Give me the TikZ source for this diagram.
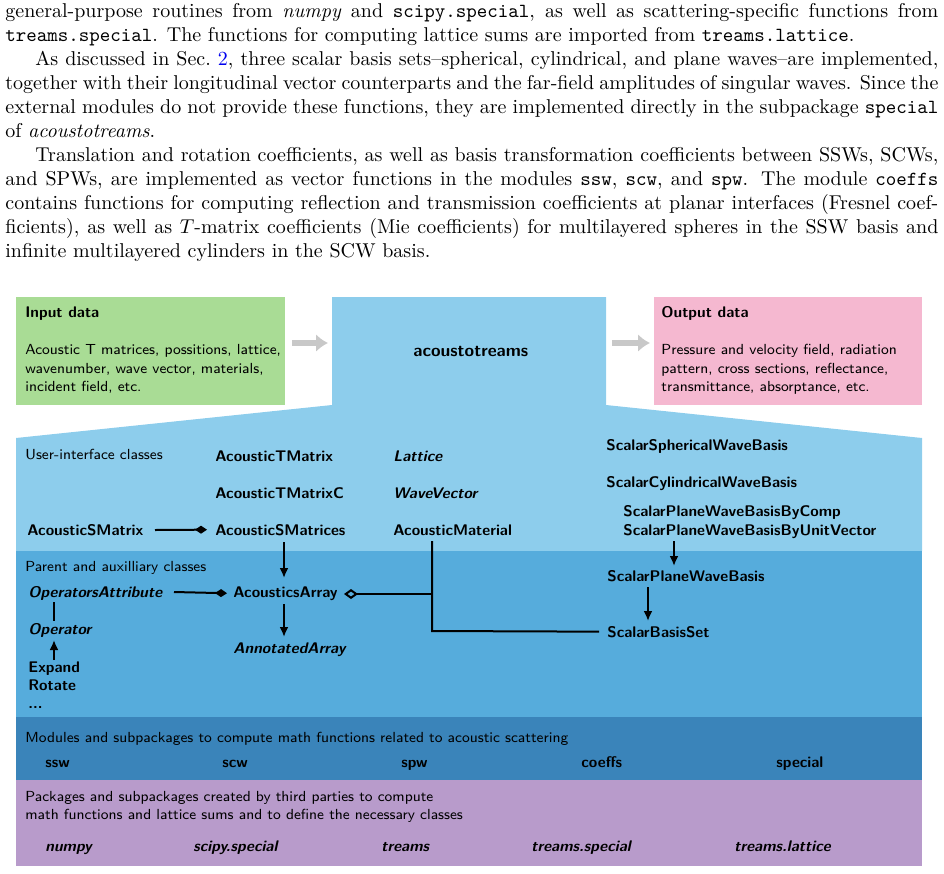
\documentclass[tikz,border=0pt]{standalone}
\usetikzlibrary{arrows.meta}
\definecolor{cgreen}{HTML}{A9DC95}
\definecolor{cpink}{HTML}{F5B8D0}
\definecolor{bluel}{HTML}{8DCDEC}
\definecolor{bluem}{HTML}{56ACDC}
\definecolor{blued}{HTML}{3A84BA}
\definecolor{purp}{HTML}{B89BCB}
\definecolor{cgray}{HTML}{C8C8C8}
\definecolor{lblue}{HTML}{0000EE}
\begin{document}
\begin{tikzpicture}[x=0.5pt,y=-0.5pt,
  lab/.style={anchor=base west,inner sep=0,yshift=-2.5pt,font=\fontsize{7.3}{8.5}\selectfont\sffamily},
  cls/.style={lab,font=\fontsize{7.7}{8.5}\selectfont\sffamily\bfseries},
  icls/.style={lab,font=\fontsize{7.7}{8.5}\selectfont\sffamily\bfseries\itshape},
  blk/.style={anchor=north west,inner sep=0,align=left,font=\fontsize{7.3}{9.3}\selectfont\sffamily},
  con/.style={line width=1pt},
  arr/.style={con,-{Latex[length=5pt,width=4.5pt]}},
  dia/.style={con,-{Diamond[length=6pt,width=4pt]}},
  odia/.style={con,-{Diamond[open,length=7pt,width=5pt]}},
  garr/.style={cgray,line width=3pt,-{Latex[length=6pt,width=9pt]}}]
\useasboundingbox (0,0) rectangle (944,874);
\node[anchor=north west,inner sep=0,text width=466.5pt,font=\fontsize{10}{12}\selectfont,align=justify] (para) at (5,3) {\parindent=15pt%
\noindent general-purpose routines from \emph{numpy} and \texttt{scipy.special}, as well as scattering-specific functions from\linebreak \texttt{treams.special}. The functions for computing lattice sums are imported from \texttt{treams.lattice}.\par
\indent As discussed in Sec.~\textcolor{lblue}{2}, three scalar basis sets--spherical, cylindrical, and plane waves--are implemented,\linebreak together with their longitudinal vector counterparts and the far-field amplitudes of singular waves. Since the\linebreak external modules do not provide these functions, they are implemented directly in the subpackage \texttt{special}\linebreak of \emph{acoustotreams}.\par
\indent Translation and rotation coefficients, as well as basis transformation coefficients between SSWs, SCWs,\linebreak and SPWs, are implemented as vector functions in the modules \texttt{ssw}, \texttt{scw}, and \texttt{spw}. The module \texttt{coeffs}\linebreak contains functions for computing reflection and transmission coefficients at planar interfaces (Fresnel coef-\linebreak ficients), as well as $T$-matrix coefficients (Mie coefficients) for multilayered spheres in the SSW basis and\linebreak infinite multilayered cylinders in the SCW basis.\par};
% backgrounds
\fill[cgreen] (16,297) rectangle (285,405);
\fill[cpink] (654,297) rectangle (922,405);
\fill[bluel] (332,297) -- (606,297) -- (606,405) -- (922,438) -- (922,551) -- (16,551) -- (16,438) -- (332,405) -- cycle;
\fill[bluem] (16,551) rectangle (922,717);
\fill[blued] (16,717) rectangle (922,780);
\fill[purp] (16,780) rectangle (922,866);
\draw[garr] (292,343) -- (328,343);
\draw[garr] (612,343) -- (650,343);
% top boxes
\node[cls] (inh) at (25,312) {Input data};
\node[blk] (inb) at (25,344) {Acoustic T matrices, possitions, lattice,\\ wavenumber, wave vector, materials,\\ incident field, etc.};
\node[cls,font=\fontsize{8.7}{9}\selectfont\sffamily\bfseries] (at) at (413,351) {acoustotreams};
\node[cls] (outh) at (661,312) {Output data};
\node[blk] (outb) at (661,344) {Pressure and velocity field, radiation\\ pattern, cross sections, reflectance,\\ transmittance, absorptance, etc.};
% user interface
\node[lab] (ui) at (25,454) {User-interface classes};
\node[cls] (tm) at (215,456) {AcousticTMatrix};
\node[cls] (tmc) at (215,493) {AcousticTMatrixC};
\node[cls] (sms) at (215,530) {AcousticSMatrices};
\node[cls] (sm) at (27,530) {AcousticSMatrix};
\node[icls] (lat) at (393,456) {Lattice};
\node[icls] (wv) at (393,493) {WaveVector};
\node[cls] (mat) at (393,530) {AcousticMaterial};
\node[cls] (ssb) at (606,445) {ScalarSphericalWaveBasis};
\node[cls] (scb) at (606,482) {ScalarCylindricalWaveBasis};
\node[cls] (pwc) at (623,511) {ScalarPlaneWaveBasisByComp};
\node[cls] (pwu) at (623,530) {ScalarPlaneWaveBasisByUnitVector};
% parent
\node[lab] (pa) at (25,566) {Parent and auxilliary classes};
\node[icls] (oa) at (28,592) {OperatorsAttribute};
\node[cls] (aa) at (233,592) {AcousticsArray};
\node[icls] (ann) at (233,648) {AnnotatedArray};
\node[icls] (op) at (28,629) {Operator};
\node[cls] (ex) at (28,667) {Expand};
\node[cls] (ro) at (28,685) {Rotate};
\node[cls] (dots) at (28,703) {...};
\node[cls] (pwb) at (607,576) {ScalarPlaneWaveBasis};
\node[cls] (bs) at (607,632) {ScalarBasisSet};
% modules
\node[lab] (mo) at (25,737) {Modules and subpackages to compute math functions related to acoustic scattering};
\node[cls] (m1) at (45,762) {ssw};
\node[cls] (m2) at (222,762) {scw};
\node[cls] (m3) at (401,762) {spw};
\node[cls] (m4) at (581,762) {coeffs};
\node[cls] (m5) at (776,762) {special};
% third party
\node[blk,font=\fontsize{7.3}{9}\selectfont\sffamily] (tp) at (25,791) {Packages and subpackages created by third parties to compute\\ math functions and lattice sums and to define the necessary classes};
\node[icls] (p1) at (45,846) {numpy};
\node[icls] (p2) at (193,846) {scipy.special};
\node[icls] (p3) at (381,846) {treams};
\node[icls] (p4) at (531,846) {treams.special};
\node[icls] (p5) at (734,846) {treams.lattice};
% connectors
\draw[dia] (155,530) -- ([xshift=-4pt]sms.west);
\draw[dia] (174,592) -- ([xshift=-3pt]aa.west);
\draw[arr] (284,542) -- (284,578);
\draw[arr] (284,604) -- (284,637);
\draw[arr] (674,541) -- (674,566);
\draw[arr] (648,587) -- (648,621);
\draw[con] (54,602) -- (54,621);
\draw[arr] (54,660) -- (54,640);
\coordinate (mb) at (432,594);
\draw[odia] (mb) -- (344,594);
\draw[con] (432,541) -- (432,631) -- ([xshift=-4pt]bs.west);
\end{tikzpicture}
\end{document}
